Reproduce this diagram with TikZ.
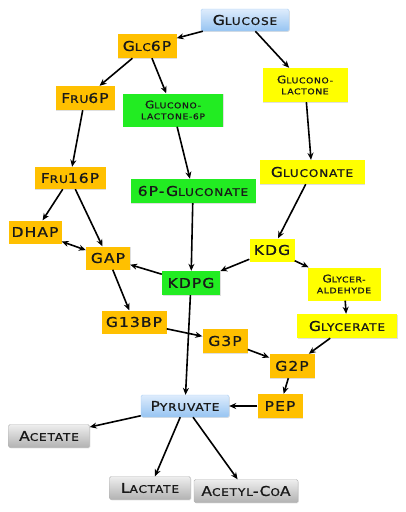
\documentclass[tikz,border=0pt]{standalone}
\usepackage{fontspec}
\usepackage{xcolor}
\usetikzlibrary{arrows.meta,shadows}
\newfontfamily\cpfont[FakeStretch=1.15,LetterSpace=8,FakeBold=1]{DejaVu Sans}
\definecolor{GlyOrange}{RGB}{255,192,0}
\definecolor{EdYellow}{RGB}{255,255,0}
\definecolor{PpGreen}{RGB}{34,236,34}
\definecolor{HubTop}{RGB}{222,236,252}
\definecolor{HubBot}{RGB}{150,196,242}
\definecolor{EndTop}{RGB}{238,238,238}
\definecolor{EndBot}{RGB}{178,178,178}
% 小型大写字母
\newcommand\sml[1]{{\fontsize{10.5}{12}\selectfont #1}}
\newcommand\smt[1]{{\fontsize{8}{10}\selectfont #1}}
\tikzset{
	mol/.style={inner sep=0pt,minimum height=23pt,text=black!90,
		font=\cpfont\fontsize{13.5}{15}\selectfont,
		drop shadow={shadow xshift=0.8pt,shadow yshift=-0.8pt,opacity=0.25}},
	twoline/.style={align=center,minimum height=33pt,font=\cpfont\fontsize{10.5}{11}\selectfont},
	glyc/.style={mol,fill=GlyOrange},
	ed/.style={mol,fill=EdYellow},
	pp/.style={mol,fill=PpGreen},
	hub/.style={mol,top color=HubTop,bottom color=HubBot,draw=HubBot!80!white,rounded corners=1.5pt},
	prod/.style={mol,top color=EndTop,bottom color=EndBot,draw=EndBot,rounded corners=1.5pt},
	arr/.style={-{Stealth[length=7pt,width=6pt]},line width=1.6pt},
	arrboth/.style={{Stealth[length=7pt,width=6pt]}-{Stealth[length=7pt,width=6pt]},line width=1.6pt},
}
\begin{document}
\begin{tikzpicture}[x=1pt,y=-1pt]
		\useasboundingbox (0,0) rectangle (406,512);
		
		% 起点与汇合点
		\node[hub,minimum width=88pt,minimum height=22pt] (glucose) at (245,20) {G\sml{LUCOSE}};
		\node[hub,minimum width=88pt,minimum height=22pt] (pyruvate) at (185,406) {P\sml{YRUVATE}};
		
		% 糖酵解 (EMP)
		\node[glyc,minimum width=59pt,minimum height=24pt] (glc6p) at (147,46) {G\sml{LC}6P};
		\node[glyc,minimum width=59pt,minimum height=24pt] (fru6p) at (85,98) {F\sml{RU}6P};
		\node[glyc,minimum width=71pt,minimum height=22pt] (fru16p) at (70,178) {F\sml{RU}16P};
		\node[glyc,minimum width=53pt] (dhap) at (35,232) {DHAP};
		\node[glyc,minimum width=44pt] (gap) at (108,258) {GAP};
		\node[glyc,minimum width=65pt] (g13bp) at (134,322) {G13BP};
		\node[glyc,minimum width=45pt,minimum height=24pt] (g3p) at (225,341) {G3P};
		\node[glyc,minimum width=45pt,minimum height=24pt] (g2p) at (292,366) {G2P};
		\node[glyc,minimum width=45pt,minimum height=24pt] (pep) at (280,406) {PEP};
		
		% 磷酸化 ED 途径
		\node[pp,twoline,minimum width=100pt] (gl6p) at (173,110) {G\smt{LUCONO-}\\\smt{LACTONE-6P}};
		\node[pp,minimum width=125pt,minimum height=24pt] (pglu) at (193,191) {6P-G\sml{LUCONATE}};
		\node[pp,minimum width=58pt,minimum height=24pt] (kdpg) at (191,283) {KDPG};
		
		% 非磷酸化 ED 途径
		\node[ed,twoline,minimum width=85pt,minimum height=34pt] (glac) at (305,85) {G\smt{LUCONO-}\\\smt{LACTONE}};
		\node[ed,minimum width=105pt,minimum height=24pt] (gluconate) at (312,172) {G\sml{LUCONATE}};
		\node[ed,minimum width=45pt] (kdg) at (272,250) {KDG};
		\node[ed,twoline,minimum width=73pt] (glyald) at (344,284) {G\smt{LYCER-}\\\smt{ALDEHYDE}};
		\node[ed,minimum width=100pt,minimum height=24pt] (glycerate) at (347,326) {G\sml{LYCERATE}};
		
		% 终产物
		\node[prod,minimum width=81pt] (acetate) at (49,436) {A\sml{CETATE}};
		\node[prod,minimum width=81pt] (lactate) at (150,488) {L\sml{ACTATE}};
		\node[prod,minimum width=104pt] (acoa) at (246,491) {A\sml{CETYL}-C\sml{O}A};
		
		% 反应箭头
		\draw[arr] (glucose)--(glc6p);
		\draw[arr] (glucose)--(glac);
		\draw[arr] (glc6p)--(fru6p);
		\draw[arr] (glc6p)--(gl6p);
		\draw[arr] (fru6p)--(fru16p);
		\draw[arr] (fru16p)--(dhap);
		\draw[arr] (fru16p)--(gap);
		\draw[arrboth] (dhap)--(gap);
		\draw[arr] (gl6p)--(pglu);
		\draw[arr] (pglu)--(kdpg);
		\draw[arr] (glac)--(gluconate);
		\draw[arr] (gluconate)--(kdg);
		\draw[arr] (kdg)--(kdpg);
		\draw[arr] (kdg)--(glyald);
		\draw[arr] (glyald)--(glycerate);
		\draw[arr] (kdpg)--(gap);
		\draw[arr] (kdpg)--(pyruvate);
		\draw[arr] (gap)--(g13bp);
		\draw[arr] (g13bp)--(g3p);
		\draw[arr] (g3p)--(g2p);
		\draw[arr] (glycerate)--(g2p);
		\draw[arr] (g2p)--(pep);
		\draw[arr] (pep)--(pyruvate);
		\draw[arr] (pyruvate)--(acetate);
		\draw[arr] (pyruvate)--(lactate);
		\draw[arr] (pyruvate)--(acoa);
	\end{tikzpicture}
\end{document}
